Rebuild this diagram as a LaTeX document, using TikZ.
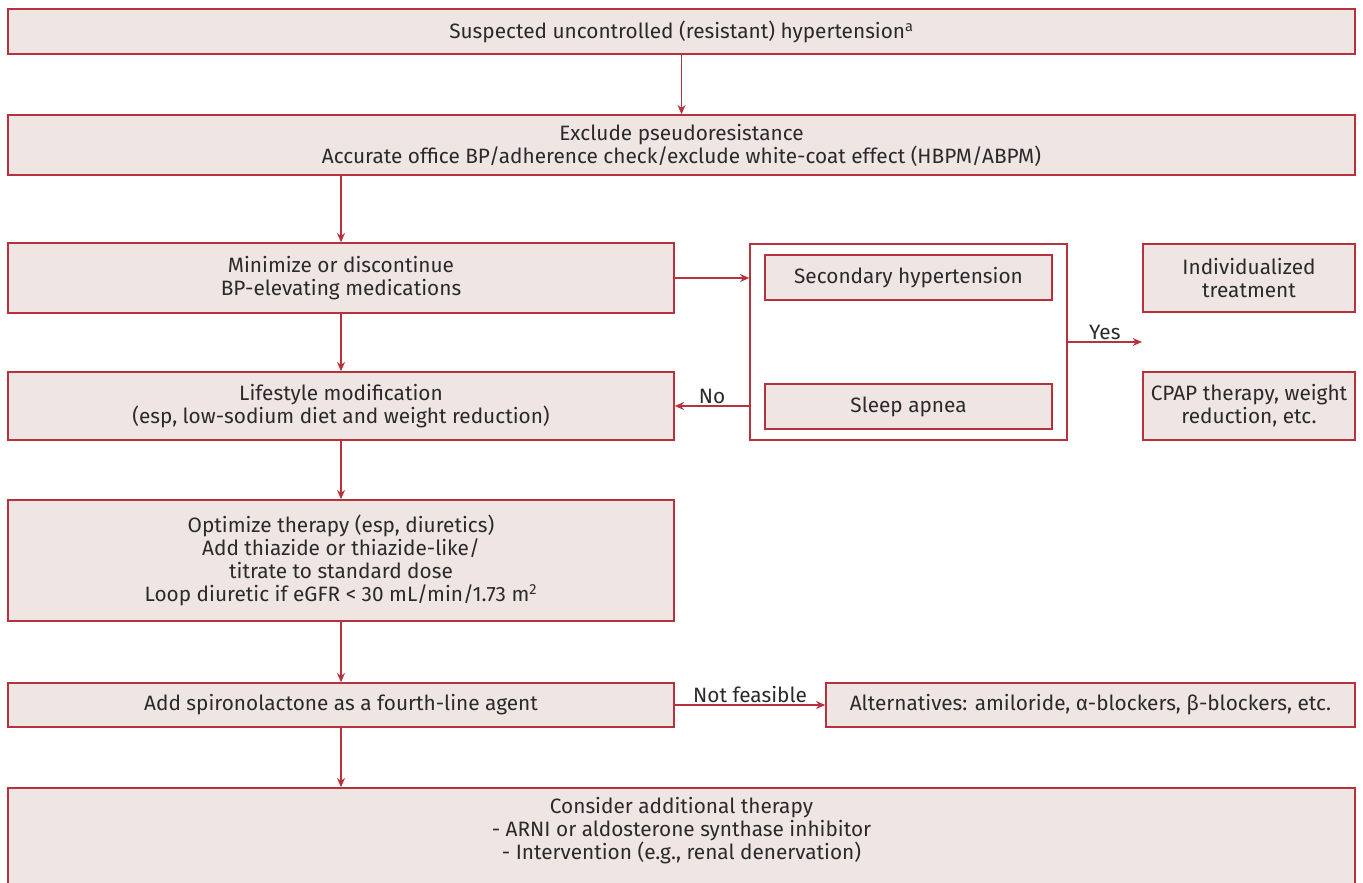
\documentclass[tikz,border=0pt]{standalone}
\usepackage{fontspec}
\setmainfont{Fira Sans}
\usetikzlibrary{arrows.meta}
\definecolor{bord}{HTML}{B8323E}
\definecolor{boxfill}{HTML}{EFE6E4}
\definecolor{txt}{HTML}{2A2A2A}
\tikzset{
  txtfont/.style={font=\fontsize{15.6}{17.25}\selectfont},
  box/.style={draw=bord, fill=boxfill, line width=1.05pt, inner sep=0pt, align=center,
    text=txt, txtfont},
  sz/.style 2 args={minimum width={#1*0.75pt}, minimum height={#2*0.75pt}},
  frame/.style={draw=bord, line width=1.05pt, inner sep=0pt},
  arr/.style={draw=bord, line width=1.05pt, -{Stealth[length=7pt,width=6pt]}},
  lbl/.style={text=txt, txtfont, inner sep=1.5pt}
}
\begin{document}
\begin{tikzpicture}[x=0.75pt,y=-0.75pt]
\useasboundingbox (0,0) rectangle (1363,882);
\clip (0,0) rectangle (1363,882);
\node[box, sz={1347}{45}] (n1) at (681.5,31.5) {Suspected uncontrolled (resistant) hypertension\textsuperscript{a}};
\node[box, sz={1347}{60}] (n2) at (681.5,145) {Exclude pseudoresistance\\Accurate office BP/adherence check/exclude white-coat effect (HBPM/ABPM)};
\node[box, sz={666}{70}] (n3) at (341,278) {Minimize or discontinue\\BP-elevating medications};
\node[frame, sz={317}{196}] (outer) at (908.5,342) {};
\node[box, sz={287}{45}] (sec) at (908.5,277.5) {Secondary hypertension};
\node[box, sz={287}{45}] (sleep) at (908.5,406.5) {Sleep apnea};
\node[box, sz={212}{68}] (ind) at (1249,278) {Individualized\\treatment};
\node[box, sz={212}{68}] (cpap) at (1249,406) {CPAP therapy, weight\\reduction, etc.};
\node[box, sz={666}{68}] (n4) at (341,406) {Lifestyle modification\\(esp, low-sodium diet and weight reduction)};
\node[box, sz={666}{121}] (n5) at (341,560.5) {Optimize therapy (esp, diuretics)\\Add thiazide or thiazide-like/\\titrate to standard dose\\Loop diuretic if eGFR < 30 mL/min/1.73 m\textsuperscript{2}};
\node[box, sz={666}{44}] (n6) at (341,705) {Add spironolactone as a fourth-line agent};
\node[box, sz={529}{44}] (alt) at (1090.5,705) {Alternatives: amiloride, α-blockers, β-blockers, etc.};
\node[box, sz={1347}{110}] (n7) at (681.5,843) {};
\node[text=txt, txtfont, align=center, inner sep=0pt] (n7t) at (681.5,831) {Consider additional therapy\\- ARNI or aldosterone synthase inhibitor\\- Intervention (e.g., renal denervation)};
\coordinate (yesend) at (1142,342);
\draw[arr] (n1.south) -- (n2.north);
\draw[arr] (n3.north |- n2.south) -- (n3.north);
\draw[arr] (n3.east) -- (n3.east -| outer.west);
\draw[arr] (outer.east) -- node[lbl, above] {Yes} (yesend);
\draw[arr] (outer.west |- n4.east) -- node[lbl, above] {No} (n4.east);
\draw[arr] (n3.south) -- (n4.north);
\draw[arr] (n4.south) -- (n5.north);
\draw[arr] (n5.south) -- (n6.north);
\draw[arr] (n6.east) -- node[lbl, above] {Not feasible} (alt.west);
\draw[arr] (n6.south) -- (n6.south |- n7.north);
\end{tikzpicture}
\end{document}
